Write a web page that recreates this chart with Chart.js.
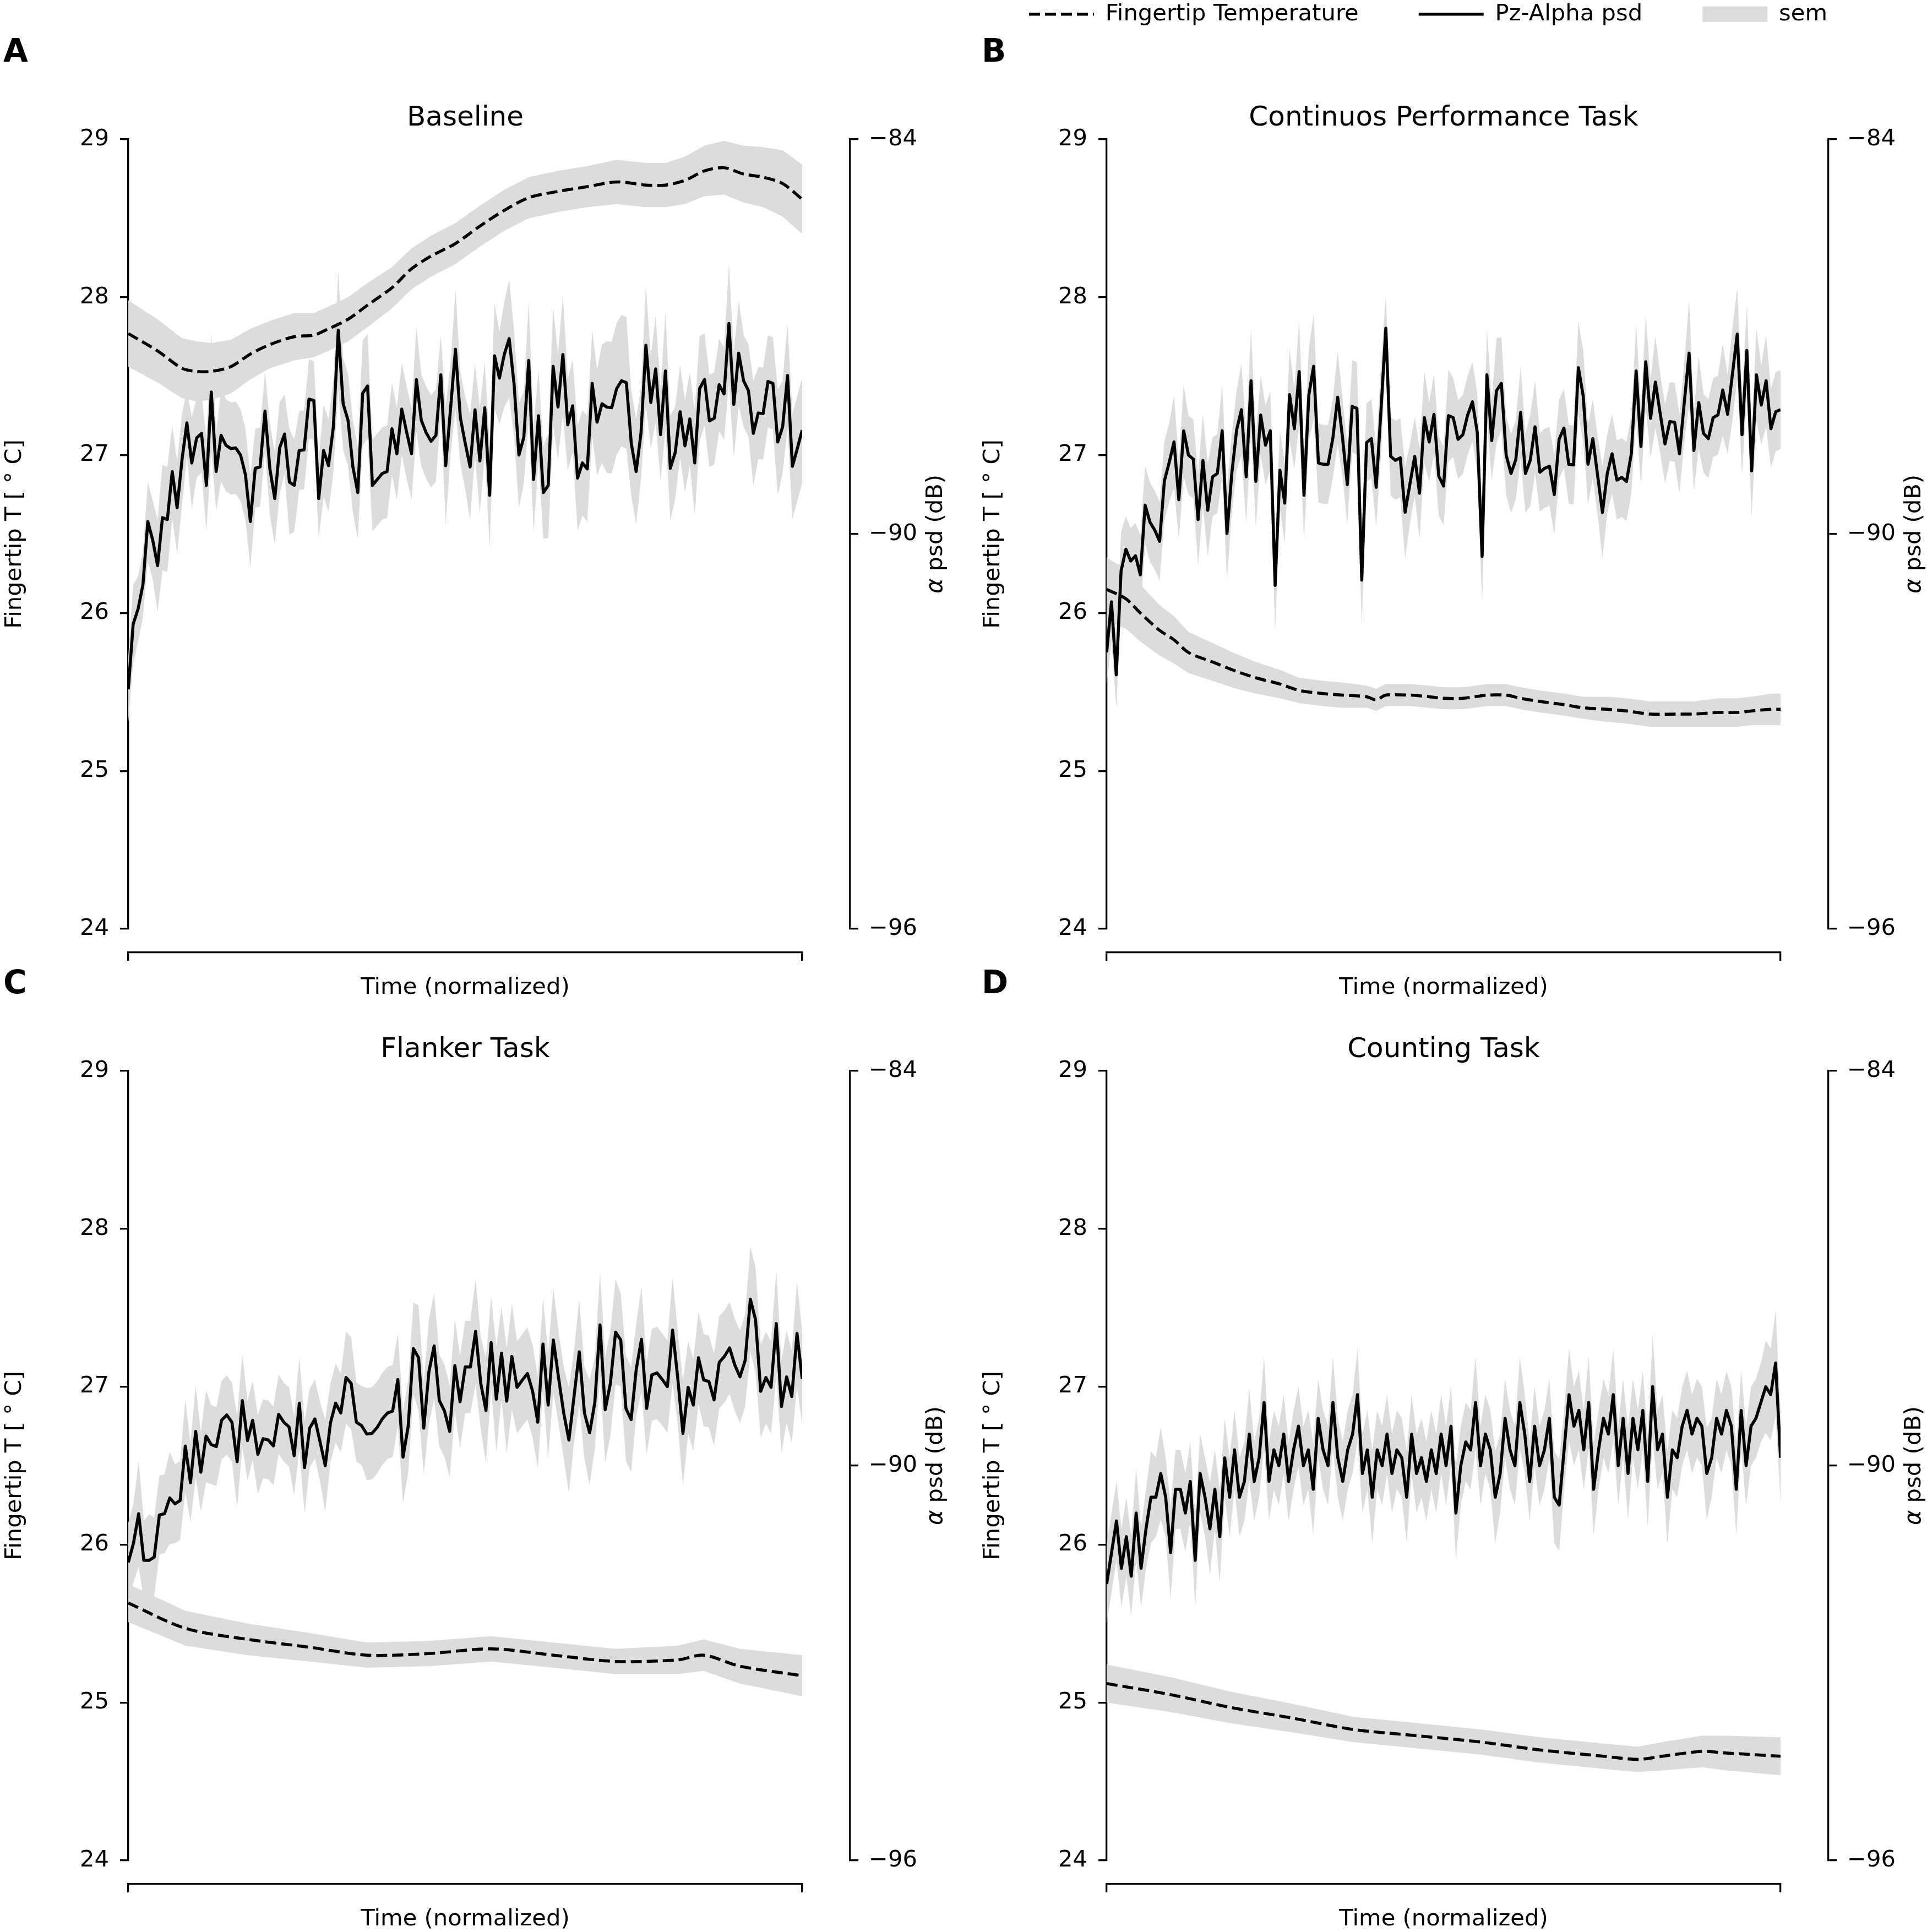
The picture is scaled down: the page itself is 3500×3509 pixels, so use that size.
<!DOCTYPE html>
<html lang="en">
<head>
<meta charset="UTF-8">
<script src="https://cdn.jsdelivr.net/npm/chart.js@4.4.0/dist/chart.umd.min.js"></script>
<title>Fingertip temperature and Pz alpha psd</title>
<style>
  html, body { margin: 0; padding: 0; background: #fff; overflow: hidden; }
  #fig { position: relative; width: 3500px; height: 3509px; overflow: hidden; }
  #fig canvas { position: absolute; }
</style>
</head>
<body>
<div id="fig">
  <canvas id="legend" width="2000" height="300" style="left:1594px;top:-104px"></canvas>
  <canvas id="panelA" width="1740" height="1817" style="left:0px;top:0px"></canvas>
  <canvas id="panelB" width="1740" height="1817" style="left:1777px;top:0px"></canvas>
  <canvas id="panelC" width="1740" height="1817" style="left:0px;top:1692px"></canvas>
  <canvas id="panelD" width="1740" height="1817" style="left:1777px;top:1692px"></canvas>
</div>
<script>
// ---- data (x = sample index, temperature in degC, psd in dB) ----

// A: Baseline
const baseTempX   = [0, 6, 11, 14, 17, 21, 25, 29, 34, 38, 41, 45, 49, 54, 58, 62, 67, 72, 77, 82, 88, 94, 100, 106, 110, 114, 118, 122, 126, 130, 134, 138];
const baseTemp    = [27.77, 27.66, 27.55, 27.53, 27.53, 27.56, 27.64, 27.70, 27.75, 27.76, 27.80, 27.86, 27.95, 28.06, 28.18, 28.26, 28.34, 28.45, 28.55, 28.63, 28.67, 28.70, 28.73, 28.71, 28.71, 28.74, 28.80, 28.82, 28.78, 28.76, 28.72, 28.62];
const baseTempSem = [0.21, 0.20, 0.19, 0.19, 0.18, 0.17, 0.16, 0.15, 0.15, 0.14, 0.14, 0.14, 0.14, 0.13, 0.13, 0.13, 0.13, 0.13, 0.13, 0.13, 0.13, 0.13, 0.14, 0.14, 0.14, 0.15, 0.16, 0.17, 0.18, 0.19, 0.21, 0.22];
const basePsd = [
  -92.36, -91.37, -91.14, -90.77, -89.81, -90.09, -90.48, -89.75, -89.78, -89.05,
  -89.60, -88.87, -88.31, -88.92, -88.54, -88.47, -89.26, -87.84, -89.05, -88.50,
  -88.65, -88.70, -88.69, -88.80, -89.10, -89.81, -89.00, -88.98, -88.13, -89.01,
  -89.46, -88.69, -88.48, -89.21, -89.26, -88.73, -88.72, -87.95, -87.97, -89.46,
  -88.73, -88.96, -88.37, -86.90, -88.02, -88.27, -88.98, -89.37, -87.86, -87.75,
  -89.26, -89.17, -89.08, -89.05, -88.40, -88.78, -88.10, -88.45, -88.78, -87.65,
  -88.27, -88.46, -88.59, -88.50, -87.58, -88.96, -88.09, -87.19, -88.23, -88.62,
  -88.98, -88.11, -88.89, -88.08, -89.41, -87.29, -87.63, -87.27, -87.03, -87.72,
  -88.80, -88.53, -87.36, -89.17, -88.20, -89.37, -89.26, -87.45, -88.07, -87.27,
  -88.34, -88.05, -89.15, -88.92, -89.01, -87.71, -88.30, -88.02, -88.07, -88.08,
  -87.79, -87.67, -87.70, -88.62, -89.05, -88.46, -87.13, -88.00, -87.49, -88.49,
  -87.52, -89.00, -88.76, -88.14, -88.66, -88.25, -88.92, -87.79, -87.65, -88.28,
  -88.24, -87.73, -87.87, -86.80, -88.03, -87.25, -87.67, -87.82, -88.47, -88.16,
  -88.17, -87.68, -87.71, -88.60, -88.37, -87.59, -88.97, -88.70, -88.42
];
const basePsdSem = [
  0.5, 0.6, 0.5, 0.5, 0.6, 0.6, 0.7, 0.8, 0.8, 0.7,
  0.7, 0.7, 0.5, 0.7, 0.6, 0.6, 0.7, 0.9, 0.6, 0.7,
  0.7, 0.7, 0.7, 0.7, 0.7, 0.7, 0.6, 0.6, 0.6, 0.7,
  0.7, 0.7, 0.6, 0.8, 0.7, 0.6, 0.6, 0.6, 0.6, 0.6,
  0.7, 0.7, 0.7, 0.9, 0.7, 0.7, 0.7, 0.7, 0.8, 0.8,
  0.7, 0.7, 0.7, 0.7, 0.7, 0.7, 0.7, 0.7, 0.7, 0.8,
  0.7, 0.7, 0.7, 0.7, 0.6, 0.9, 0.7, 0.9, 0.7, 0.7,
  0.8, 0.7, 0.8, 0.7, 0.8, 0.8, 0.7, 0.8, 0.9, 0.8,
  0.8, 0.7, 0.9, 0.8, 0.7, 0.7, 0.8, 0.9, 0.8, 0.9,
  0.7, 0.7, 0.8, 0.8, 0.8, 0.8, 0.8, 0.9, 1.0, 1.0,
  1.0, 1.0, 1.0, 0.8, 0.8, 0.7, 0.9, 0.7, 0.8, 0.7,
  0.9, 0.8, 0.7, 0.7, 0.7, 0.7, 0.8, 0.8, 0.7, 0.7,
  0.7, 0.7, 0.7, 0.9, 0.8, 0.8, 0.7, 0.7, 0.8, 0.7,
  0.7, 0.7, 0.7, 0.8, 0.7, 0.8, 0.8, 0.8, 0.8
];

// B: Continuos Performance Task
const cptTempX   = [0, 4, 7, 11, 14, 17, 22, 27, 31, 36, 40, 45, 49, 54, 56, 58, 63, 67, 70, 74, 79, 83, 86, 90, 95, 99, 104, 108, 113, 118, 122, 127, 131, 134, 138, 140];
const cptTemp    = [26.15, 26.09, 26.00, 25.89, 25.83, 25.75, 25.69, 25.63, 25.59, 25.55, 25.51, 25.49, 25.48, 25.47, 25.45, 25.48, 25.48, 25.47, 25.46, 25.46, 25.48, 25.48, 25.46, 25.44, 25.42, 25.40, 25.39, 25.38, 25.36, 25.36, 25.36, 25.37, 25.37, 25.38, 25.39, 25.39];
const cptTempSem = [0.20, 0.19, 0.18, 0.16, 0.15, 0.13, 0.12, 0.11, 0.10, 0.09, 0.08, 0.08, 0.08, 0.07, 0.07, 0.07, 0.07, 0.07, 0.07, 0.07, 0.07, 0.07, 0.07, 0.07, 0.07, 0.07, 0.08, 0.08, 0.08, 0.08, 0.08, 0.09, 0.09, 0.09, 0.10, 0.10];
const cptPsd = [
  -91.80, -91.03, -92.14, -90.56, -90.23, -90.41, -90.33, -90.62, -89.56, -89.82,
  -89.94, -90.11, -89.19, -88.91, -88.60, -89.48, -88.43, -88.80, -88.86, -89.78,
  -88.88, -89.64, -89.13, -89.08, -88.43, -89.99, -89.08, -88.42, -88.11, -89.13,
  -87.67, -89.20, -88.19, -88.65, -88.43, -90.78, -89.03, -89.53, -87.88, -88.40,
  -87.53, -89.41, -87.89, -87.45, -88.92, -88.94, -88.94, -88.54, -87.92, -88.53,
  -89.25, -88.06, -88.09, -90.70, -88.61, -88.55, -89.29, -88.11, -86.87, -88.82,
  -88.88, -88.84, -89.67, -89.24, -88.82, -89.38, -88.23, -88.60, -88.18, -89.12,
  -89.27, -88.20, -88.23, -88.56, -88.49, -88.19, -87.99, -88.46, -90.34, -87.58,
  -88.58, -87.82, -87.71, -88.80, -89.08, -88.87, -88.15, -89.08, -88.88, -88.37,
  -89.06, -89.00, -88.97, -89.40, -88.56, -88.39, -88.94, -88.95, -87.47, -87.90,
  -88.94, -88.55, -89.11, -89.67, -89.08, -88.78, -89.18, -89.14, -89.20, -88.78,
  -87.52, -88.67, -87.38, -88.24, -87.69, -88.17, -88.63, -88.29, -88.30, -88.78,
  -88.00, -87.25, -88.73, -88.00, -88.47, -88.55, -88.23, -88.19, -87.81, -88.18,
  -87.57, -86.96, -88.49, -87.21, -89.04, -87.58, -88.04, -87.67, -88.40, -88.14, -88.11
];
const cptPsdSem = [
  0.5, 0.6, 0.5, 0.6, 0.5, 0.5, 0.5, 0.6, 0.6, 0.6,
  0.6, 0.6, 0.6, 0.6, 0.7, 0.6, 0.7, 0.6, 0.6, 0.7,
  0.7, 0.7, 0.6, 0.6, 0.7, 0.7, 0.6, 0.6, 0.7, 0.7,
  0.8, 0.7, 0.6, 0.6, 0.6, 0.7, 0.6, 0.6, 0.7, 0.6,
  0.8, 0.7, 0.7, 0.8, 0.6, 0.6, 0.6, 0.6, 0.7, 0.6,
  0.6, 0.7, 0.7, 0.7, 0.6, 0.6, 0.6, 0.7, 0.5, 0.6,
  0.6, 0.6, 0.7, 0.6, 0.6, 0.7, 0.7, 0.6, 0.6, 0.6,
  0.6, 0.7, 0.6, 0.6, 0.6, 0.6, 0.6, 0.6, 0.7, 0.7,
  0.6, 0.8, 0.7, 0.6, 0.6, 0.6, 0.7, 0.6, 0.7, 0.7,
  0.6, 0.6, 0.6, 0.6, 0.6, 0.6, 0.6, 0.6, 0.7, 0.7,
  0.6, 0.6, 0.6, 0.7, 0.6, 0.6, 0.6, 0.6, 0.6, 0.6,
  0.7, 0.6, 0.7, 0.6, 0.7, 0.6, 0.6, 0.6, 0.6, 0.6,
  0.6, 0.8, 0.6, 0.7, 0.6, 0.6, 0.6, 0.6, 0.7, 0.6,
  0.7, 0.7, 0.6, 0.7, 0.7, 0.7, 0.6, 0.7, 0.6, 0.6, 0.6
];

// C: Flanker Task
const flankTempX   = [0, 11, 23, 35, 46, 58, 70, 82, 94, 106, 111, 118, 130];
const flankTemp    = [25.63, 25.47, 25.40, 25.35, 25.30, 25.31, 25.34, 25.30, 25.26, 25.27, 25.30, 25.23, 25.17];
const flankTempSem = [0.12, 0.11, 0.10, 0.09, 0.08, 0.08, 0.08, 0.08, 0.08, 0.09, 0.10, 0.11, 0.13];
const flankPsd = [
  -91.47, -91.18, -90.73, -91.44, -91.44, -91.39, -90.75, -90.73, -90.49, -90.58,
  -90.53, -89.70, -90.26, -89.48, -90.10, -89.55, -89.68, -89.71, -89.31, -89.23,
  -89.34, -89.94, -89.01, -89.62, -89.31, -89.83, -89.59, -89.61, -89.70, -89.22,
  -89.34, -89.41, -89.85, -89.05, -90.03, -89.43, -89.29, -89.64, -90.00, -89.35,
  -89.05, -89.20, -88.66, -88.75, -89.34, -89.39, -89.52, -89.51, -89.42, -89.29,
  -89.20, -89.17, -88.69, -89.87, -89.40, -88.22, -88.36, -89.43, -88.57, -88.18,
  -89.01, -89.17, -89.48, -88.48, -89.03, -88.50, -88.50, -87.96, -88.75, -89.16,
  -88.13, -88.99, -88.29, -89.02, -88.34, -88.81, -88.70, -88.60, -88.87, -89.34,
  -88.15, -89.08, -88.09, -88.66, -89.20, -89.61, -88.94, -88.27, -89.20, -89.50,
  -89.04, -87.86, -89.15, -88.75, -87.97, -88.09, -89.13, -89.30, -88.53, -88.08,
  -89.13, -88.62, -88.59, -88.69, -88.80, -87.94, -88.67, -89.51, -88.81, -89.08,
  -88.36, -88.70, -88.72, -89.00, -88.43, -88.34, -88.21, -88.47, -88.65, -88.40,
  -87.47, -87.78, -88.87, -88.66, -88.81, -87.84, -89.10, -88.65, -88.95, -87.99, -88.68
];
const flankPsdSem = [
  0.6, 0.6, 0.8, 0.6, 0.7, 0.6, 0.6, 0.6, 0.7, 0.6,
  0.6, 0.7, 0.6, 0.7, 0.6, 0.7, 0.6, 0.6, 0.6, 0.6,
  0.6, 0.7, 0.7, 0.6, 0.6, 0.6, 0.6, 0.6, 0.6, 0.6,
  0.6, 0.6, 0.6, 0.7, 0.7, 0.6, 0.6, 0.6, 0.7, 0.6,
  0.6, 0.6, 0.7, 0.7, 0.6, 0.6, 0.7, 0.7, 0.7, 0.7,
  0.7, 0.7, 0.7, 0.7, 0.7, 0.7, 0.8, 0.7, 0.8, 0.8,
  0.7, 0.7, 0.7, 0.7, 0.7, 0.7, 0.7, 0.8, 0.7, 0.8,
  0.7, 0.8, 0.7, 0.8, 0.8, 0.7, 0.7, 0.7, 0.7, 0.7,
  0.7, 0.8, 0.8, 0.7, 0.7, 0.8, 0.7, 0.8, 0.7, 0.8,
  0.7, 0.8, 0.8, 0.8, 0.8, 0.7, 0.8, 0.8, 0.7, 0.8,
  0.7, 0.7, 0.7, 0.7, 0.7, 0.8, 0.7, 0.8, 0.7, 0.7,
  0.7, 0.7, 0.7, 0.7, 0.7, 0.7, 0.7, 0.7, 0.7, 0.7,
  0.8, 0.8, 0.7, 0.7, 0.7, 0.8, 0.7, 0.7, 0.7, 0.8, 0.7
];

// D: Counting Task
const countTempX   = [0, 13, 25, 38, 50, 63, 76, 88, 101, 108, 113, 121, 126, 137];
const countTemp    = [25.12, 25.05, 24.97, 24.90, 24.83, 24.79, 24.75, 24.70, 24.66, 24.64, 24.66, 24.69, 24.68, 24.66];
const countTempSem = [0.12, 0.11, 0.10, 0.09, 0.08, 0.08, 0.08, 0.08, 0.08, 0.08, 0.09, 0.10, 0.11, 0.12];
const countPsd = [
  -91.80, -91.32, -90.84, -91.56, -91.08, -91.68, -90.72, -91.56, -90.96, -90.48,
  -90.48, -90.12, -90.48, -91.32, -90.36, -90.36, -90.72, -90.24, -91.44, -90.12,
  -90.48, -90.96, -90.36, -91.08, -89.88, -90.48, -89.76, -90.48, -90.24, -89.52,
  -90.24, -89.88, -89.04, -90.24, -89.76, -90.00, -89.52, -90.24, -89.76, -89.40,
  -90.00, -89.76, -90.36, -89.28, -89.76, -90.00, -89.04, -89.88, -90.24, -89.76,
  -89.52, -88.92, -90.12, -89.76, -90.48, -89.76, -90.00, -89.52, -90.12, -89.76,
  -89.88, -90.48, -89.52, -90.12, -89.88, -90.24, -89.76, -90.12, -89.52, -90.00,
  -89.40, -90.72, -90.00, -89.64, -89.76, -89.04, -90.00, -89.52, -89.76, -90.48,
  -90.12, -89.28, -89.76, -90.00, -89.04, -89.52, -90.24, -89.40, -90.00, -89.76,
  -89.28, -90.48, -90.60, -89.76, -88.92, -89.40, -89.16, -89.76, -89.04, -90.36,
  -89.76, -89.28, -89.52, -88.92, -90.00, -89.28, -90.12, -89.28, -89.76, -89.16,
  -90.24, -88.80, -89.76, -89.52, -90.48, -89.76, -89.88, -89.40, -89.16, -89.52,
  -89.28, -89.40, -90.12, -89.88, -89.28, -89.52, -89.16, -89.40, -90.36, -89.16,
  -90.00, -89.40, -89.28, -89.04, -88.80, -88.92, -88.44, -89.88
];
const countPsdSem = [
  0.6, 0.6, 0.6, 0.6, 0.6, 0.6, 0.7, 0.6, 0.6, 0.7,
  0.6, 0.7, 0.6, 0.7, 0.6, 0.6, 0.6, 0.6, 0.7, 0.6,
  0.6, 0.7, 0.6, 0.7, 0.6, 0.6, 0.6, 0.6, 0.6, 0.7,
  0.6, 0.6, 0.7, 0.6, 0.6, 0.6, 0.6, 0.6, 0.6, 0.6,
  0.6, 0.6, 0.7, 0.6, 0.6, 0.6, 0.7, 0.6, 0.6, 0.6,
  0.6, 0.7, 0.6, 0.6, 0.7, 0.6, 0.6, 0.6, 0.6, 0.6,
  0.6, 0.7, 0.6, 0.6, 0.6, 0.6, 0.6, 0.6, 0.6, 0.6,
  0.6, 0.7, 0.6, 0.6, 0.6, 0.7, 0.6, 0.6, 0.6, 0.7,
  0.6, 0.6, 0.6, 0.6, 0.7, 0.6, 0.6, 0.6, 0.6, 0.6,
  0.6, 0.7, 0.7, 0.6, 0.7, 0.6, 0.6, 0.6, 0.7, 0.7,
  0.6, 0.6, 0.6, 0.7, 0.6, 0.6, 0.7, 0.6, 0.6, 0.6,
  0.7, 0.8, 0.6, 0.6, 0.7, 0.6, 0.6, 0.6, 0.6, 0.6,
  0.6, 0.6, 0.7, 0.6, 0.6, 0.6, 0.6, 0.6, 0.7, 0.6,
  0.6, 0.6, 0.6, 0.6, 0.7, 0.7, 0.8, 0.7
];

const tempTicks = [24, 25, 26, 27, 28, 29];
const psdTicks = [-96, -90, -84];

// ---- styling ----
const SEM_GREY = 'rgb(220,220,220)';
const FONT = "'DejaVu Sans', sans-serif";
const FS = 41.7;
const LW = 5.5;
const SPINE = 3.3;
const DASH = [20, 9];

Chart.defaults.font.family = FONT;
Chart.defaults.font.size = FS;
Chart.defaults.color = '#000';

// push the right spine and the time axis away from the data, like seaborn's despine(offset=...)
const offsetAxes = {
  id: 'offsetAxes',
  afterLayout(chart, args, opts) {
    const r = chart.scales.yR, x = chart.scales.x;
    r.left += opts.right; r.right += opts.right;
    x.top += opts.bottom; x.bottom += opts.bottom;
  },
  afterDraw(chart, args, opts) {
    // right axis label reads bottom-to-top, same as the left one
    const r = chart.scales.yR, ca = chart.chartArea, ctx = chart.ctx;
    ctx.save();
    ctx.translate(r.left + opts.labelGap, (ca.top + ca.bottom) / 2);
    ctx.rotate(-Math.PI / 2);
    ctx.fillStyle = '#000';
    ctx.textBaseline = 'middle';
    ctx.font = 'italic ' + FS + 'px ' + FONT;
    const a = 'α';
    const aw = ctx.measureText(a).width;
    ctx.font = FS + 'px ' + FONT;
    const rest = ' psd (dB)';
    const rw = ctx.measureText(rest).width;
    const x0 = -(aw + rw) / 2;
    ctx.textAlign = 'left';
    ctx.font = 'italic ' + FS + 'px ' + FONT;
    ctx.fillText(a, x0, 0);
    ctx.font = FS + 'px ' + FONT;
    ctx.fillText(rest, x0 + aw, 0);
    ctx.restore();
  }
};

function pts(xs, ys) {
  return xs.map((x, k) => ({x: x, y: ys[k]}));
}

function makePanel(id, letter, title, tempX, temp, tempSem, psd, psdSem) {
  const n = psd.length;
  const idx = psd.map((v, i) => i);
  const tempHi = temp.map((v, k) => v + tempSem[k]);
  const tempLo = temp.map((v, k) => v - tempSem[k]);
  const psdHi = psd.map((v, k) => v + psdSem[k]);
  const psdLo = psd.map((v, k) => v - psdSem[k]);

  const band = {borderWidth: 0, pointRadius: 0, backgroundColor: SEM_GREY, order: 10};

  new Chart(document.getElementById(id), {
    type: 'line',
    data: {
      datasets: [
        Object.assign({label: 'temp+sem', data: pts(tempX, tempHi), yAxisID: 'yT', fill: '+1'}, band),
        Object.assign({label: 'temp-sem', data: pts(tempX, tempLo), yAxisID: 'yT', fill: false}, band),
        Object.assign({label: 'psd+sem', data: pts(idx, psdHi), yAxisID: 'yR', fill: '+1'}, band),
        Object.assign({label: 'psd-sem', data: pts(idx, psdLo), yAxisID: 'yR', fill: false}, band),
        {
          label: 'Fingertip Temperature', data: pts(tempX, temp), yAxisID: 'yT',
          borderColor: '#000', borderWidth: LW, borderDash: DASH, pointRadius: 0,
          fill: false, tension: 0.3, order: 2
        },
        {
          label: 'Pz-Alpha psd', data: pts(idx, psd), yAxisID: 'yR',
          borderColor: '#000', borderWidth: LW, borderJoinStyle: 'round', pointRadius: 0,
          fill: false, tension: 0, order: 1
        }
      ]
    },
    options: {
      responsive: false,
      animation: false,
      events: [],
      devicePixelRatio: 1,
      layout: {padding: {left: 6, right: 133, top: 0, bottom: 45}},
      plugins: {
        legend: {display: false},
        tooltip: {enabled: false},
        title: {
          display: true, text: letter, align: 'start', color: '#000',
          font: {size: 58, weight: 'bold', lineHeight: 1}, padding: {top: 68, bottom: 0}
        },
        subtitle: {
          display: true, text: title, fullSize: false, color: '#000',
          font: {size: 50, lineHeight: 1}, padding: {top: 64, bottom: 13}
        },
        offsetAxes: {right: 87, bottom: 43, labelGap: 156}
      },
      scales: {
        x: {
          type: 'linear', min: 0, max: n - 1,
          afterBuildTicks: s => { s.ticks = [{value: 0}, {value: n - 1}]; },
          afterFit: s => { s.height = 85; },
          ticks: {display: false},
          grid: {display: true, drawOnChartArea: false, drawTicks: true, tickLength: 15, lineWidth: SPINE, color: '#000'},
          border: {display: true, width: SPINE, color: '#000'},
          title: {display: true, text: 'Time (normalized)', color: '#000', font: {size: FS, lineHeight: 1}, padding: {top: 20, bottom: 0}}
        },
        yT: {
          type: 'linear', position: 'left', min: 24, max: 29,
          afterBuildTicks: s => { s.ticks = tempTicks.map(v => ({value: v})); },
          afterFit: s => { s.width = 227; },
          ticks: {padding: 20, color: '#000', font: {size: FS}},
          grid: {display: true, drawOnChartArea: false, drawTicks: true, tickLength: 15, lineWidth: SPINE, color: '#000'},
          border: {display: true, width: SPINE, color: '#000'},
          title: {display: true, text: 'Fingertip T [ \u00B0 C]', color: '#000', font: {size: FS, lineHeight: 1}, padding: {top: 0, bottom: 0}}
        },
        yR: {
          type: 'linear', position: 'right', min: -96, max: -84,
          afterBuildTicks: s => { s.ticks = psdTicks.map(v => ({value: v})); },
          afterFit: s => { s.width = 150; },
          ticks: {padding: 19, color: '#000', font: {size: FS}, callback: v => (v < 0 ? '\u2212' + Math.abs(v) : String(v))},
          grid: {display: true, drawOnChartArea: false, drawTicks: true, tickLength: 15, lineWidth: SPINE, color: '#000'},
          border: {display: true, width: SPINE, color: '#000'}
        }
      }
    },
    plugins: [offsetAxes]
  });
}

makePanel('panelA', 'A', 'Baseline', baseTempX, baseTemp, baseTempSem, basePsd, basePsdSem);
makePanel('panelB', 'B', 'Continuos Performance Task', cptTempX, cptTemp, cptTempSem, cptPsd, cptPsdSem);
makePanel('panelC', 'C', 'Flanker Task', flankTempX, flankTemp, flankTempSem, flankPsd, flankPsdSem);
makePanel('panelD', 'D', 'Counting Task', countTempX, countTemp, countTempSem, countPsd, countPsdSem);

// figure legend
new Chart(document.getElementById('legend'), {
  type: 'line',
  data: {datasets: []},
  options: {
    responsive: false,
    animation: false,
    events: [],
    devicePixelRatio: 1,
    scales: {x: {display: false}, y: {display: false}},
    plugins: {
      tooltip: {enabled: false},
      legend: {
        display: true, position: 'top', align: 'center',
        labels: {
          usePointStyle: true, pointStyleWidth: 118, boxHeight: 28, padding: 109,
          font: {size: FS}, color: '#000',
          generateLabels: () => [
            {text: 'Fingertip Temperature', pointStyle: 'line', lineWidth: LW, lineDash: DASH, strokeStyle: '#000', fillStyle: '#000', fontColor: '#000'},
            {text: 'Pz-Alpha psd', pointStyle: 'line', lineWidth: LW, strokeStyle: '#000', fillStyle: '#000', fontColor: '#000'},
            {text: 'sem', pointStyle: 'rect', lineWidth: 0, strokeStyle: SEM_GREY, fillStyle: SEM_GREY, fontColor: '#000'}
          ]
        }
      }
    }
  }
});
</script>
</body>
</html>
